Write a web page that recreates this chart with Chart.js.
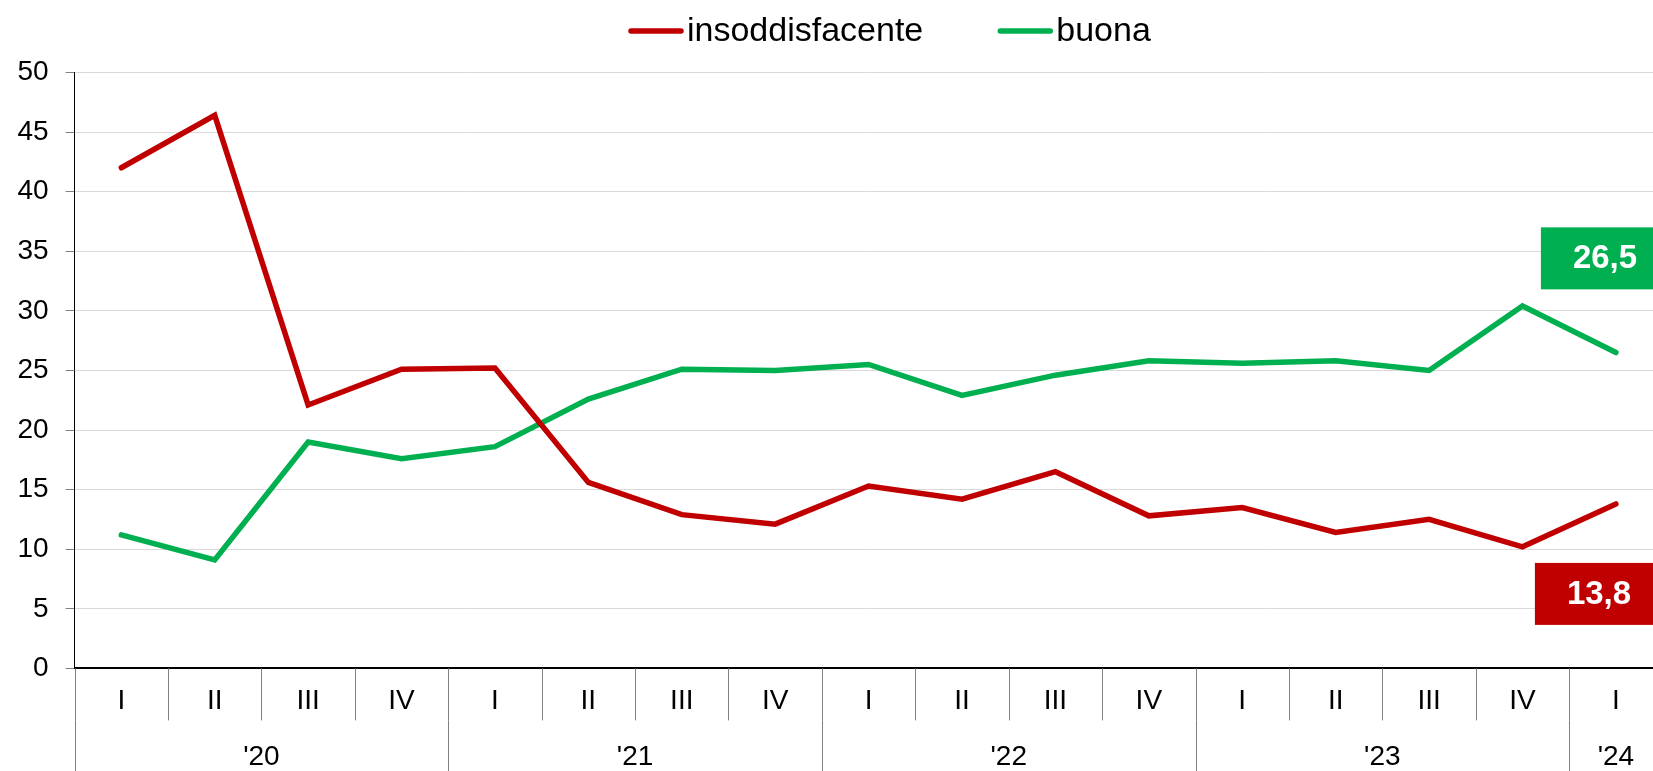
<!DOCTYPE html>
<html>
<head>
<meta charset="utf-8">
<script src="https://cdn.jsdelivr.net/npm/chart.js@4.4.1/dist/chart.umd.min.js"></script>
<style>
html, body { margin: 0; padding: 0; background: #fff; overflow: hidden; }
#wrap { position: relative; width: 1664px; height: 771px; }
</style>
</head>
<body>
<div id="wrap"><canvas id="chart"></canvas></div>
<script>
const quarters = ['I', 'II', 'III', 'IV', 'I', 'II', 'III', 'IV', 'I', 'II', 'III', 'IV', 'I', 'II', 'III', 'IV', 'I'];
const years = ["'20", "'21", "'22", "'23", "'24"];
const quartersPerYear = [4, 4, 4, 4, 1];
const insoddisfacente = [42.0, 46.4, 22.1, 25.1, 25.2, 15.6, 12.9, 12.1, 15.3, 14.2, 16.5, 12.8, 13.5, 11.4, 12.5, 10.2, 13.8];
const buona = [11.2, 9.1, 19.0, 17.6, 18.6, 22.6, 25.1, 25.0, 25.5, 22.9, 24.6, 25.8, 25.6, 25.8, 25.0, 30.4, 26.5];
const yMin = 0, yMax = 50, yStep = 5;

const RED = '#c00000';
const GREEN = '#00b050';
const FONT = '"Liberation Sans", Arial, sans-serif';

// legend drawn by hand so the line marker sits close to its text
const legendPlugin = {
    id: 'topLegend',
    afterDraw(chart) {
        const ctx = chart.ctx;
        ctx.save();
        ctx.font = '34px ' + FONT;
        ctx.textBaseline = 'alphabetic';
        ctx.textAlign = 'left';
        let x = 629;
        chart.data.datasets.forEach(ds => {
            ctx.strokeStyle = ds.borderColor;
            ctx.lineWidth = 5.5;
            ctx.lineCap = 'round';
            ctx.beginPath();
            ctx.moveTo(x + 2, 31);
            ctx.lineTo(x + 52, 31);
            ctx.stroke();
            ctx.fillStyle = '#000';
            ctx.fillText(ds.label, x + 58, 41);
            x += 58 + ctx.measureText(ds.label).width + 75;
        });
        ctx.restore();
    }
};

// quarter / year dividers and year labels under the x axis
const yearAxisPlugin = {
    id: 'yearAxis',
    afterDraw(chart) {
        const ctx = chart.ctx;
        const xs = chart.scales.x;
        const area = chart.chartArea;
        const step = xs.getPixelForValue(1) - xs.getPixelForValue(0);
        const edge = i => xs.getPixelForValue(0) - step / 2 + i * step;
        ctx.save();
        ctx.strokeStyle = '#808080';
        ctx.lineWidth = 1;
        for (let i = 0; i <= quarters.length; i++) {
            const px = Math.round(edge(i)) + 0.5;
            ctx.beginPath();
            ctx.moveTo(px, area.bottom);
            ctx.lineTo(px, area.bottom + 52);
            ctx.stroke();
        }
        ctx.font = '28px ' + FONT;
        ctx.fillStyle = '#000';
        ctx.textAlign = 'center';
        ctx.textBaseline = 'middle';
        let start = 0;
        years.forEach((y, k) => {
            const px = Math.round(edge(start)) + 0.5;
            ctx.beginPath();
            ctx.moveTo(px, area.bottom + 52);
            ctx.lineTo(px, chart.height);
            ctx.stroke();
            const mid = (edge(start) + edge(start + quartersPerYear[k])) / 2;
            ctx.fillText(y, mid, area.bottom + 89);
            start += quartersPerYear[k];
        });
        ctx.restore();
    }
};

// value boxes at the end of each line
const endLabelPlugin = {
    id: 'endLabels',
    afterDatasetsDraw(chart) {
        const ctx = chart.ctx;
        const ys = chart.scales.y;
        const boxes = [
            { ds: 1, left: -75, top: 37.0, bottom: 31.8 },
            { ds: 0, left: -81, top: 8.85, bottom: 3.65 }
        ];
        ctx.save();
        ctx.font = 'bold 33px ' + FONT;
        ctx.textAlign = 'left';
        ctx.textBaseline = 'middle';
        boxes.forEach(b => {
            const ds = chart.data.datasets[b.ds];
            const meta = chart.getDatasetMeta(b.ds);
            const last = meta.data[meta.data.length - 1];
            const x0 = last.x + b.left;
            const y0 = ys.getPixelForValue(b.top);
            const y1 = ys.getPixelForValue(b.bottom);
            ctx.fillStyle = ds.borderColor;
            ctx.fillRect(x0, y0, chart.width - x0, y1 - y0);
            ctx.fillStyle = '#fff';
            const v = ds.data[ds.data.length - 1].toFixed(1).replace('.', ',');
            ctx.fillText(v, x0 + 32, (y0 + y1) / 2 + 1);
        });
        ctx.restore();
    }
};

const ctx = document.getElementById('chart').getContext('2d');
const chart = new Chart(ctx, {
    type: 'line',
    data: {
        labels: quarters,
        datasets: [
            {
                label: 'insoddisfacente',
                data: insoddisfacente,
                borderColor: RED,
                backgroundColor: RED,
                borderWidth: 5.5,
                pointRadius: 0,
                tension: 0,
                borderCapStyle: 'round'
            },
            {
                label: 'buona',
                data: buona,
                borderColor: GREEN,
                backgroundColor: GREEN,
                borderWidth: 5.5,
                pointRadius: 0,
                tension: 0,
                borderCapStyle: 'round'
            }
        ]
    },
    options: {
        responsive: true,
        maintainAspectRatio: false,
        animation: false,
        layout: { padding: { top: 72.4, right: 1.4, left: 0, bottom: 0 } },
        plugins: {
            legend: { display: false },
            tooltip: { enabled: false }
        },
        scales: {
            x: {
                offset: true,
                grid: { display: true, drawOnChartArea: false, drawTicks: false },
                border: { display: true, color: '#000', width: 2 },
                ticks: {
                    font: { family: FONT, size: 28 },
                    color: '#000',
                    padding: 16.5,
                    autoSkip: false,
                    maxRotation: 0
                },
                afterFit(scale) { scale.height = 102.6; }
            },
            y: {
                min: yMin,
                max: yMax,
                ticks: {
                    stepSize: yStep,
                    font: { family: FONT, size: 28 },
                    color: '#000',
                    padding: 17
                },
                grid: { color: '#d9d9d9', lineWidth: 1, tickLength: 9, tickColor: '#808080' },
                border: { display: true, color: '#000', width: 1 },
                afterFit(scale) { scale.width = 74.6; }
            }
        }
    },
    plugins: [legendPlugin, yearAxisPlugin, endLabelPlugin]
});
</script>
</body>
</html>
